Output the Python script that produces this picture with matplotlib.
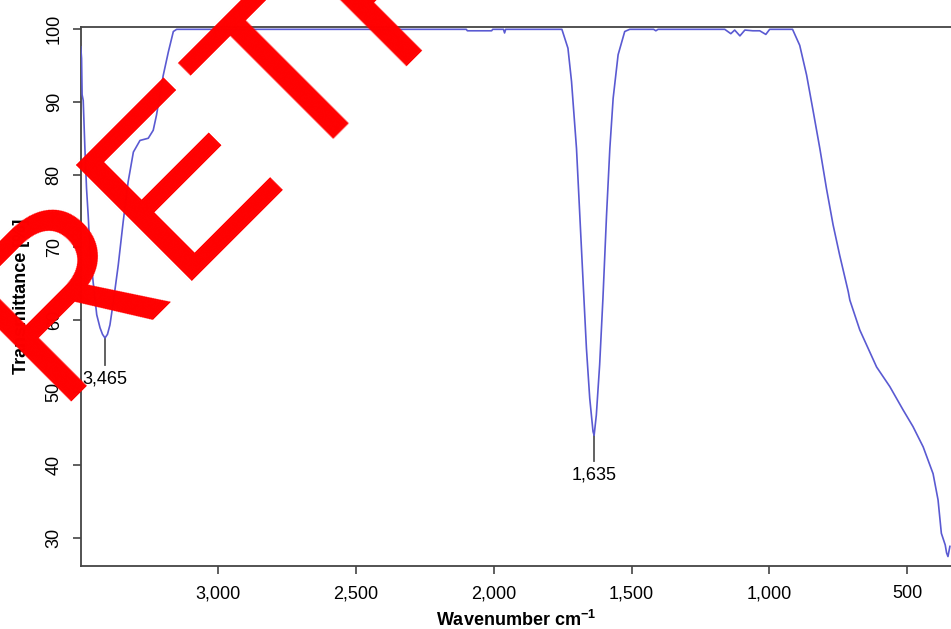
import matplotlib
matplotlib.use("Agg")
import matplotlib.pyplot as plt

plt.rcParams['font.family'] = ['Liberation Sans', 'DejaVu Sans']
plt.rcParams['mathtext.fontset'] = 'custom'
plt.rcParams['mathtext.rm'] = 'Liberation Sans'
plt.rcParams['mathtext.bf'] = 'Liberation Sans:bold'

# FT-IR spectrum
wavenumber = [3499, 3496, 3494, 3490, 3484, 3478, 3472, 3466, 3454, 3441,
              3429, 3420, 3411, 3402, 3393, 3381, 3363, 3345, 3327, 3308,
              3284, 3254, 3236, 3224, 3212, 3200, 3181, 3163, 3151,
              2100, 2096, 2008, 2004, 1965, 1961, 1957,
              1753, 1731, 1718, 1700, 1688, 1676, 1664, 1652, 1640, 1636,
              1628, 1616, 1604, 1591, 1579, 1567, 1549, 1525, 1507,
              1420, 1412, 1404,
              1162, 1140, 1126, 1107, 1089, 1060, 1035, 1013, 999,
              916, 890, 865, 841, 817, 793, 769, 745, 714, 708, 672,
              611, 563, 515, 479, 442, 406, 388, 376, 362, 357, 352, 345]
transmittance = [97.6, 96.0, 91.0, 90.2, 83.7, 78.1, 74.4, 69.9, 65.2, 60.7,
                 58.9, 58.0, 57.5, 58.0, 59.3, 62.4, 67.5, 73.5, 79.0, 83.1,
                 84.7, 85.0, 86.1, 88.2, 90.9, 93.6, 96.9, 99.7, 100.0,
                 100.0, 99.8, 99.8, 100.0, 100.0, 99.5, 100.0,
                 100.0, 97.4, 92.8, 83.6, 74.4, 65.2, 56.1, 49.2, 44.6, 44.1,
                 46.9, 53.8, 63.0, 74.4, 83.6, 90.5, 96.5, 99.7, 100.0,
                 100.0, 99.8, 100.0,
                 100.0, 99.4, 99.9, 99.1, 99.9, 99.8, 99.8, 99.3, 100.0,
                 100.0, 97.8, 93.7, 88.7, 83.6, 78.1, 73.1, 68.9, 63.9, 62.7, 58.6,
                 53.5, 50.8, 47.6, 45.3, 42.5, 38.8, 35.2, 30.6, 29.0, 27.9, 27.4, 28.8]

peak_pos = [3411, 1636]
peak_val = [57.5, 44.1]
peak_end = [53.8, 40.6]
peak_labels = ['3,465', '1,635']

xticks = [3000, 2500, 2000, 1500, 1000, 500]
xtick_labels = ['3,000', '2,500', '2,000', '1,500', '1,000', '500']
yticks = [30, 40, 50, 60, 70, 80, 90, 100]

fig = plt.figure(figsize=(9.51, 6.29), dpi=100)
ax = fig.add_axes([0.0849, 0.1002, 0.9151, 0.8564])

ax.plot(wavenumber, transmittance, color='#5a5ad2', lw=1.2, zorder=3)

# peak markers
for x, v, e, lab in zip(peak_pos, peak_val, peak_end, peak_labels):
    ax.plot([x, x], [v, e], color='#555555', lw=1.3, zorder=2)
    ax.text(x, e - 0.8, lab, ha='center', va='top', fontsize=13)

ax.set_xlim(3499, 341)
ax.set_ylim(26.1, 100.28)
ax.set_xticks(xticks)
ax.set_xticklabels(xtick_labels)
ax.set_yticks(yticks)
ax.set_yticklabels([str(v) for v in yticks], rotation=90, va='center')

for s in ['left', 'bottom', 'top']:
    ax.spines[s].set_color('#444444')
    ax.spines[s].set_linewidth(1.3)
ax.spines['right'].set_visible(False)
ax.tick_params(axis='both', length=6, width=1.2, color='#444444', labelsize=13)
ax.tick_params(axis='x', pad=8)
ax.tick_params(axis='y', pad=7)

ax.set_xlabel(r'Wavenumber cm$^{\mathbf{-1}}$', fontsize=13, fontweight='bold')
ax.xaxis.set_label_coords(0.5, -0.081)
ax.set_ylabel('Transmittance [%]', fontsize=13, fontweight='bold')
ax.yaxis.set_label_coords(-0.058, 0.5)

# red watermark across the plot
fig.text(0.055, 0.362, 'RETRACTED', color='#ff0000', fontsize=171,
         rotation=45, rotation_mode='anchor', ha='left', va='baseline',
         family='Liberation Sans', zorder=10)

fig.savefig('out.png', dpi=100)
